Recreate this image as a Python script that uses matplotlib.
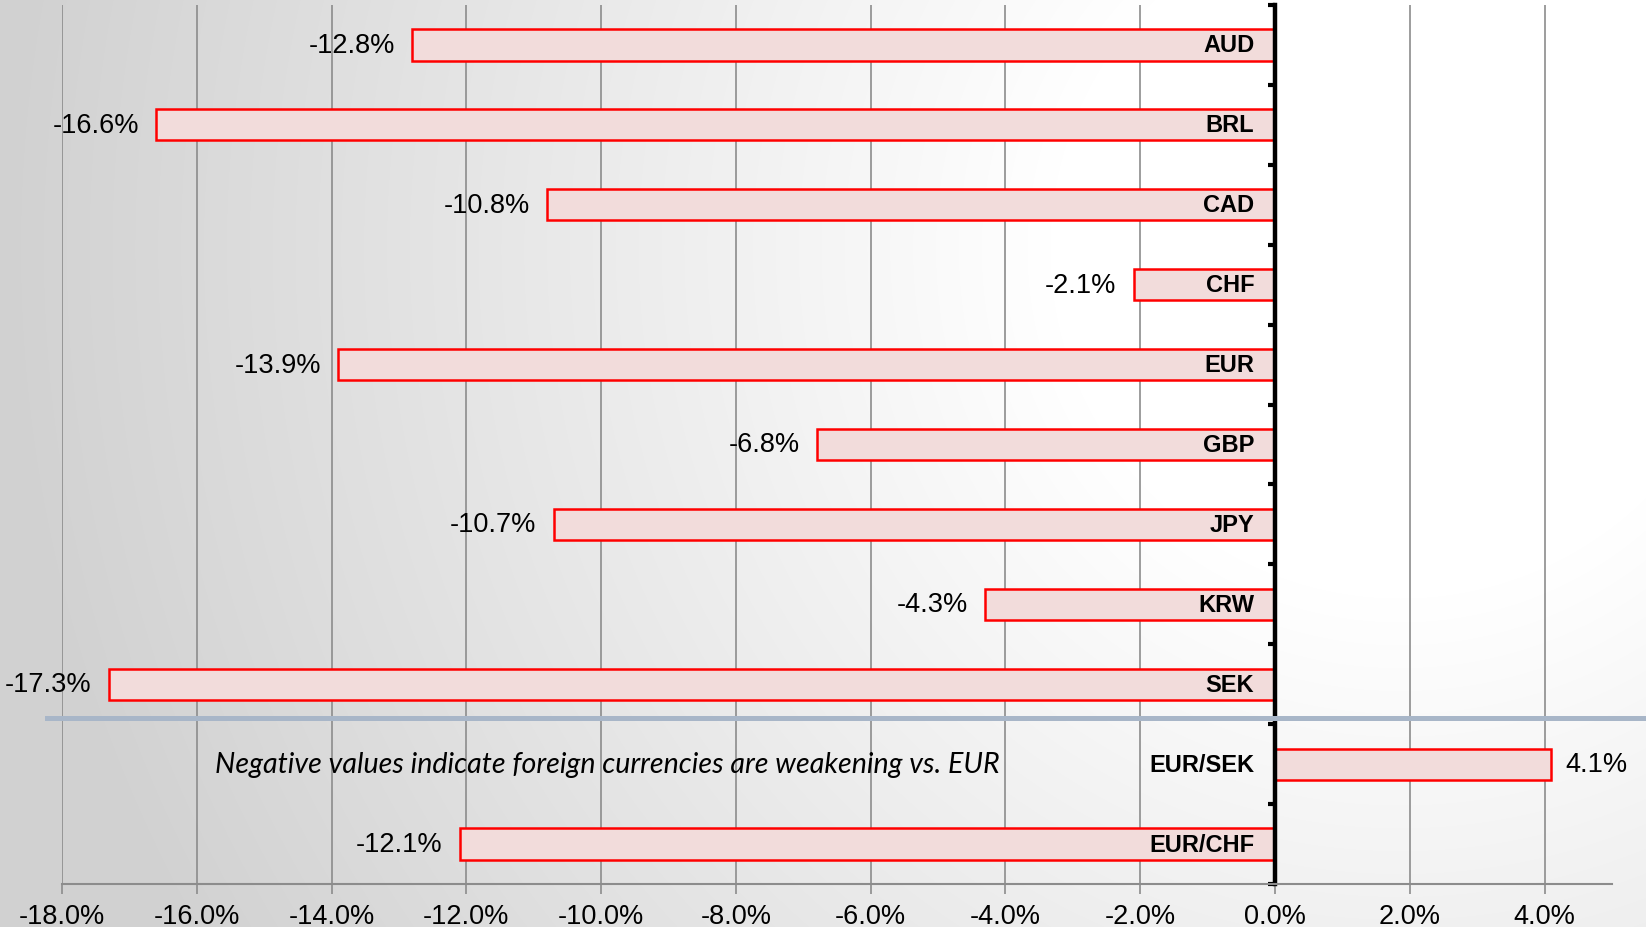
import numpy as np
import matplotlib.pyplot as plt
from matplotlib.transforms import blended_transform_factory

# data
currencies = ['AUD', 'BRL', 'CAD', 'CHF', 'EUR', 'GBP', 'JPY', 'KRW', 'SEK', 'EUR/SEK', 'EUR/CHF']
changes = [-12.8, -16.6, -10.8, -2.1, -13.9, -6.8, -10.7, -4.3, -17.3, 4.1, -12.1]
xtick_vals = np.arange(-18, 5, 2)
note = 'Negative values indicate foreign currencies are weakening vs. EUR'

narrow = ['Liberation Sans Narrow', 'Liberation Sans', 'DejaVu Sans']

W, H = 1646, 928
fig = plt.figure(figsize=(W / 100, H / 100), dpi=100)

# background gradient (grey at the left, white towards the upper right)
bg = fig.add_axes([0, 0, 1, 1], zorder=-1)
yy, xx = np.mgrid[0:H, 0:W]
d = np.hypot(xx - 1400, yy - 250)
g = 1 - 0.18 * np.clip((d - 350) / 1050, 0, 1)
bg.imshow(np.dstack([g, g, g]), aspect='auto', extent=[0, 1, 0, 1])
bg.axis('off')

ax = fig.add_axes([62 / W, 43 / H, (1612 - 62) / W, (922 - 43) / H])
ax.patch.set_alpha(0)

y = np.arange(len(currencies))
ax.barh(y, changes, height=0.39, color='#f2dcdb', edgecolor='#ff0000', linewidth=1.8, zorder=2)

ax.set_xlim(-18, 5)
ax.set_ylim(len(currencies) - 0.5, -0.5)
ax.set_xticks(xtick_vals)
ax.set_xticklabels([f'{v:.1f}%' for v in xtick_vals], family=narrow, fontsize=19.5)
ax.set_yticks(np.arange(-0.5, len(currencies), 1))
ax.set_yticklabels([])
ax.grid(axis='x', color='#8c8c8c', linewidth=1.2, zorder=0)
ax.set_axisbelow(True)

for s in ['top', 'right']:
    ax.spines[s].set_visible(False)
ax.spines['bottom'].set_color('#8c8c8c')
ax.spines['bottom'].set_linewidth(1.5)
ax.spines['left'].set_position(('data', 0))
ax.spines['left'].set_color('black')
ax.spines['left'].set_linewidth(3.2)
ax.tick_params(axis='x', length=7, width=1.2, color='#8c8c8c', pad=7)
ax.tick_params(axis='y', length=5, width=3, color='black', direction='out')

for i, (name, v) in enumerate(zip(currencies, changes)):
    ax.annotate(name, xy=(0, i), xytext=(-15, 0), textcoords='offset points',
                ha='right', va='center', fontsize=17, weight='bold', family='Liberation Sans')
    if v < 0:
        ax.annotate(f'{v:.1f}%', xy=(v, i), xytext=(-12.5, 0), textcoords='offset points',
                    ha='right', va='center', fontsize=19.5, family=narrow)
    else:
        ax.annotate(f'{v:.1f}%', xy=(v, i), xytext=(10, 0), textcoords='offset points',
                    ha='left', va='center', fontsize=19.5, family=narrow)

# separator between currencies and crosses
tr = blended_transform_factory(fig.transFigure, ax.transData)
ax.plot([47 / W, 1], [8.42, 8.42], transform=tr, color='#a8b6c8', lw=3.6, clip_on=False, zorder=3)

ax.text(-15.73, 9, note, ha='left', va='center', style='italic', fontsize=20.6, family='Lato')

fig.savefig('out.png', dpi=100)
